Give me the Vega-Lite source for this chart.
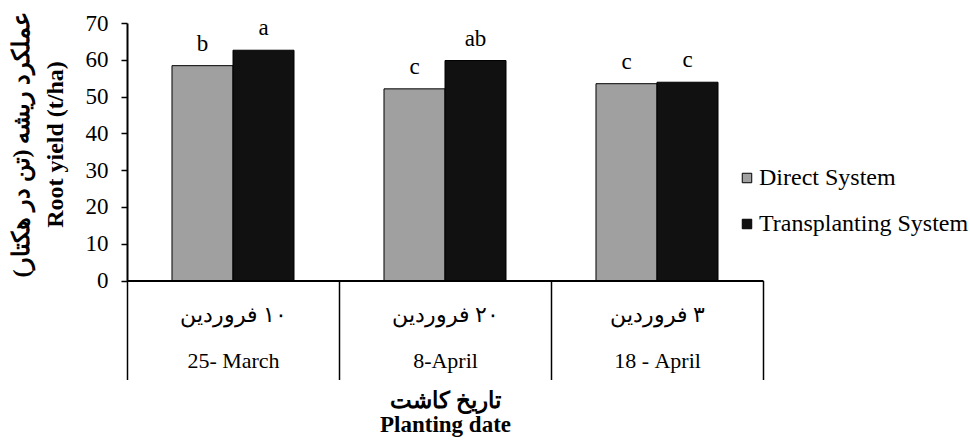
{
  "$schema": "https://vega.github.io/schema/vega-lite/v6.json",
  "width": 636,
  "height": 257.5,
  "autosize": {"type": "none"},
  "padding": {"left": 127, "top": 23, "right": 207, "bottom": 160},
  "background": "white",
  "config": {
    "font": "Liberation Serif",
    "view": {"stroke": null},
    "axis": {"grid": false, "domainColor": "black", "tickColor": "black", "labelColor": "black", "titleColor": "black", "labelFont": "Liberation Serif", "titleFont": "Liberation Serif"}
  },
  "data": {
    "values": [
      {"date": "25- March", "system": "Direct System", "value": 58.4, "letter": "b"},
      {"date": "25- March", "system": "Transplanting System", "value": 62.6, "letter": "a"},
      {"date": "8-April", "system": "Direct System", "value": 52.1, "letter": "c"},
      {"date": "8-April", "system": "Transplanting System", "value": 59.8, "letter": "ab"},
      {"date": "18 - April", "system": "Direct System", "value": 53.5, "letter": "c"},
      {"date": "18 - April", "system": "Transplanting System", "value": 53.9, "letter": "c"}
    ]
  },
  "encoding": {
    "x": {
      "field": "date",
      "type": "nominal",
      "sort": ["25- March", "8-April", "18 - April"],
      "scale": {"paddingInner": 0, "paddingOuter": 0},
      "axis": {
        "title": ["تاریخ کاشت", "Planting date"],
        "titleFontWeight": "bold",
        "titleFontSize": 23,
        "titleLineHeight": 24,
        "titlePadding": 9,
        "labelExpr": "datum.value == '25- March' ? ['\u200f۱۰ فروردین', '25- March'] : datum.value == '8-April' ? ['\u200f۲۰ فروردین', '8-April'] : datum.value == '18 - April' ? ['\u200f۳ فروردین', '18 - April'] : ''",
        "labelAngle": 0,
        "labelFontSize": 22,
        "labelLineHeight": 46,
        "labelPadding": -75,
        "tickBand": "extent",
        "tickSize": 99,
        "tickWidth": 1.5,
        "domainWidth": 2
      }
    },
    "xOffset": {
      "field": "system",
      "sort": ["Direct System", "Transplanting System"],
      "scale": {"paddingInner": 0, "paddingOuter": 0.7377}
    },
    "y": {
      "field": "value",
      "type": "quantitative",
      "scale": {"domain": [0, 70], "nice": false},
      "axis": {
        "values": [0, 10, 20, 30, 40, 50, 60, 70],
        "title": ["عملکرد ریشه (تن در هکتار)", "Root yield  (t/ha)"],
        "titleFontWeight": "bold",
        "titleFontSize": 24,
        "titleLineHeight": 34,
        "titlePadding": 18,
        "titleY": 121,
        "labelFontSize": 23,
        "labelPadding": 13,
        "tickSize": 6,
        "tickWidth": 1.5,
        "domainWidth": 2
      }
    }
  },
  "layer": [
    {
      "mark": {"type": "bar", "stroke": "black", "strokeWidth": 1},
      "encoding": {
        "color": {
          "field": "system",
          "type": "nominal",
          "scale": {"domain": ["Direct System", "Transplanting System"], "range": ["#a0a0a0", "#111111"]},
          "legend": {
            "title": null,
            "orient": "none",
            "legendX": 608,
            "legendY": 143,
            "padding": 0,
            "symbolType": "square",
            "symbolSize": 90,
            "symbolStrokeColor": "black",
            "symbolStrokeWidth": 1,
            "labelFontSize": 24,
            "labelFont": "Liberation Serif",
            "labelColor": "black",
            "labelOffset": 0,
            "labelLimit": 400,
            "rowPadding": 22
          }
        }
      }
    },
    {
      "mark": {"type": "text", "dy": -15, "fontSize": 23, "baseline": "alphabetic", "color": "black"},
      "encoding": {"text": {"field": "letter"}}
    }
  ]
}
